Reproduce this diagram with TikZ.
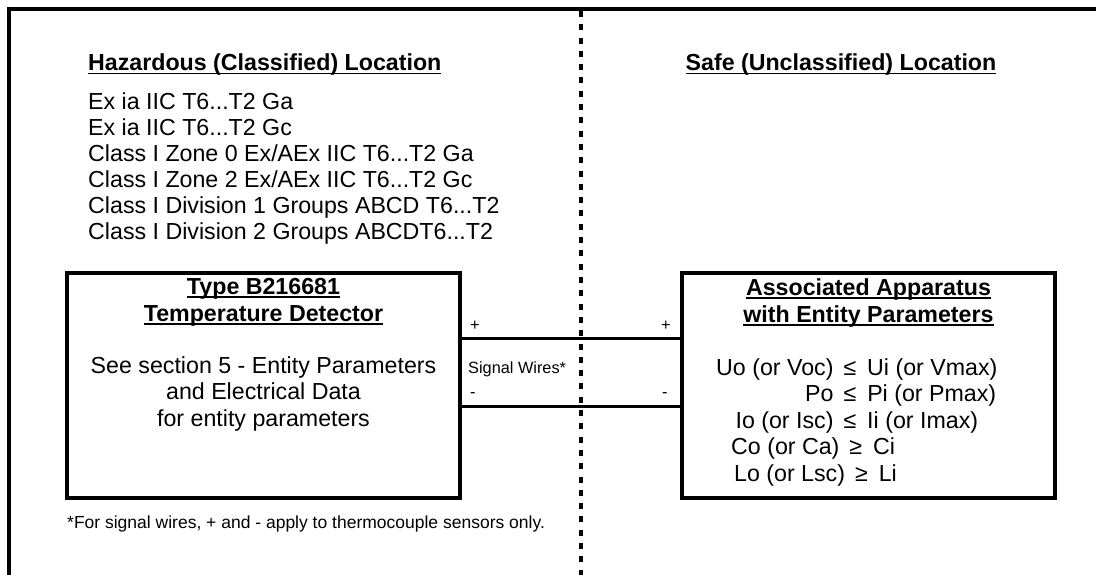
\documentclass[tikz,border=0pt]{standalone}
\usepackage{fontspec}
\setmainfont{Liberation Sans}
\usetikzlibrary{positioning}
\newcommand{\ulined}[1]{\setbox0\hbox{#1}\rlap{\copy0}\rule[-3.5pt]{\wd0}{1.6pt}}
\tikzset{
  frameline/.style={line width=4pt},
  zoneline/.style={line width=3.5pt, dash pattern=on 6pt off 7.3pt},
  devbox/.style={draw, line width=4pt, inner sep=0pt, anchor=north west},
  wire/.style={line width=3pt},
  headtext/.style={font=\fontsize{23.2}{27}\selectfont\bfseries, inner sep=0pt, align=center},
  bodytext/.style={font=\fontsize{23.2}{26.5}\selectfont, inner sep=0pt},
  smalltext/.style={font=\fontsize{16.3}{19}\selectfont, inner sep=0pt},
}

\begin{document}
\begin{tikzpicture}[x=1pt,y=-1pt]
  \useasboundingbox (0,0) rectangle (1096,575);
  % frame and zone border
  \draw [frameline] (9,575) -- (9,9) -- (1096,9);
  \draw [zoneline] (581,11) -- (581,575);

  \node [headtext, anchor=base west] (hazard) at (88,71) {\ulined{Hazardous (Classified) Location}};
  \node [headtext, anchor=base] (safe) at (841,71) {\ulined{Safe (Unclassified) Location}};

  \node [bodytext, font=\fontsize{23.2}{26}\selectfont, anchor=north west, align=left] (marks) at (88,92)
    {Ex ia IIC T6...T2 Ga\\
     Ex ia IIC T6...T2 Gc\\
     Class I Zone 0 Ex/AEx IIC T6...T2 Ga\\
     Class I Zone 2 Ex/AEx IIC T6...T2 Gc\\
     Class I Division 1 Groups ABCD T6...T2\\
     Class I Division 2 Groups ABCDT6...T2};

  % the two devices
  \node [devbox, minimum width=393pt, minimum height=225pt] (detector) at (65,271) {};
  \node [headtext, below=7pt of detector.north] (dettitle)
    {\ulined{Type B216681}\\ \ulined{Temperature Detector}};
  \node [bodytext, align=center, below=85pt of detector.north] (detnote)
    {See section 5 - Entity Parameters\\ and Electrical Data\\ for entity parameters};

  \node [devbox, minimum width=373pt, minimum height=225pt] (apparatus) at (680,271) {};
  \node [headtext, below=7pt of apparatus.north] (apptitle)
    {\ulined{Associated Apparatus}\\ \ulined{with Entity Parameters}};
  \node [bodytext, anchor=base west] (params) at (716,375)
    {\begin{tabular}[t]{@{}r@{\hspace{10pt}}c@{\hspace{11pt}}l@{}}
       Uo (or Voc) & ≤ & Ui (or Vmax)\\
       Po & ≤ & Pi (or Pmax)\\
       Io (or Isc) & ≤ & Ii (or Imax)\\
       \multicolumn{3}{@{}l@{}}{\hspace{15pt}Co (or Ca)\hspace{10pt}≥\hspace{11pt}Ci}\\
       \multicolumn{3}{@{}l@{}}{\hspace{18pt}Lo (or Lsc)\hspace{10pt}≥\hspace{11pt}Li}
     \end{tabular}};

  % signal wires
  \draw [wire] (detector.east |- 0,338) -- (apparatus.west |- 0,338);
  \draw [wire] (detector.east |- 0,406) -- (apparatus.west |- 0,406);
  \node [smalltext, anchor=base west] (plusdet) at (470,330.8) {+};
  \node [smalltext, anchor=base west] (minusdet) at (470,397.5) {-};
  \node [smalltext, anchor=base west] (plusapp) at (661,330.8) {+};
  \node [smalltext, anchor=base west] (minusapp) at (662,397.5) {-};
  \node [smalltext, anchor=base west] (wirenote) at (468,373) {Signal Wires*};

  \node [font=\fontsize{17.5}{20}\selectfont, inner sep=0pt, anchor=base west] (footnote) at (67,528)
    {*For signal wires, + and - apply to thermocouple sensors only.};
\end{tikzpicture}
\end{document}
